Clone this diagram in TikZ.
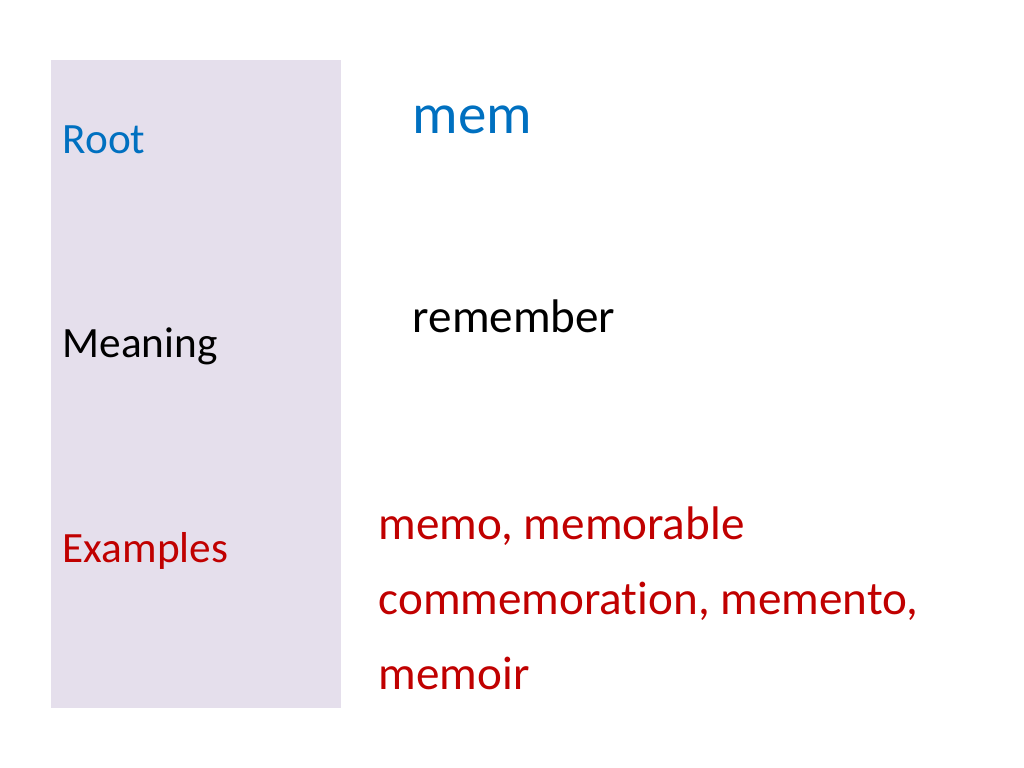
\documentclass[tikz,border=0pt]{standalone}
\usepackage{fontspec}
\setmainfont{Carlito}[Ligatures=NoCommon]
\usepackage{tikz}
\definecolor{rootblue}{RGB}{0,112,192}
\definecolor{exred}{RGB}{192,0,0}
\definecolor{panel}{RGB}{229,223,236}
\begin{document}
\begin{tikzpicture}[x=0.01cm,y=-0.01cm]
\tikzstyle{every node}+=[inner sep=0pt, anchor=base west]
\tikzstyle{label}=[font=\fontsize{12.3}{15}\selectfont]
\tikzstyle{entry}=[font=\fontsize{13.4}{21.3}\selectfont]
\useasboundingbox (0,0) rectangle (1024,768);
\fill [panel] (51,60) rectangle (341,708);
\node [label, rootblue] (root) at (62,154) {Root};
\node [label, black] (meaning) at (62,358) {Meaning};
\node [label, exred] (examples) at (62,563) {Examples};
\node [font=\fontsize{16.2}{20}\selectfont, rootblue] (mem) at (412,134) {mem};
\node [entry, black] (remember) at (412,333) {remember};
\node [entry, exred] (ex1) at (378,540) {memo, memorable};
\node [entry, exred] (ex2) at (378,615) {commemoration, memento,};
\node [entry, exred] (ex3) at (378,690) {memoir};
\end{tikzpicture}
\end{document}
